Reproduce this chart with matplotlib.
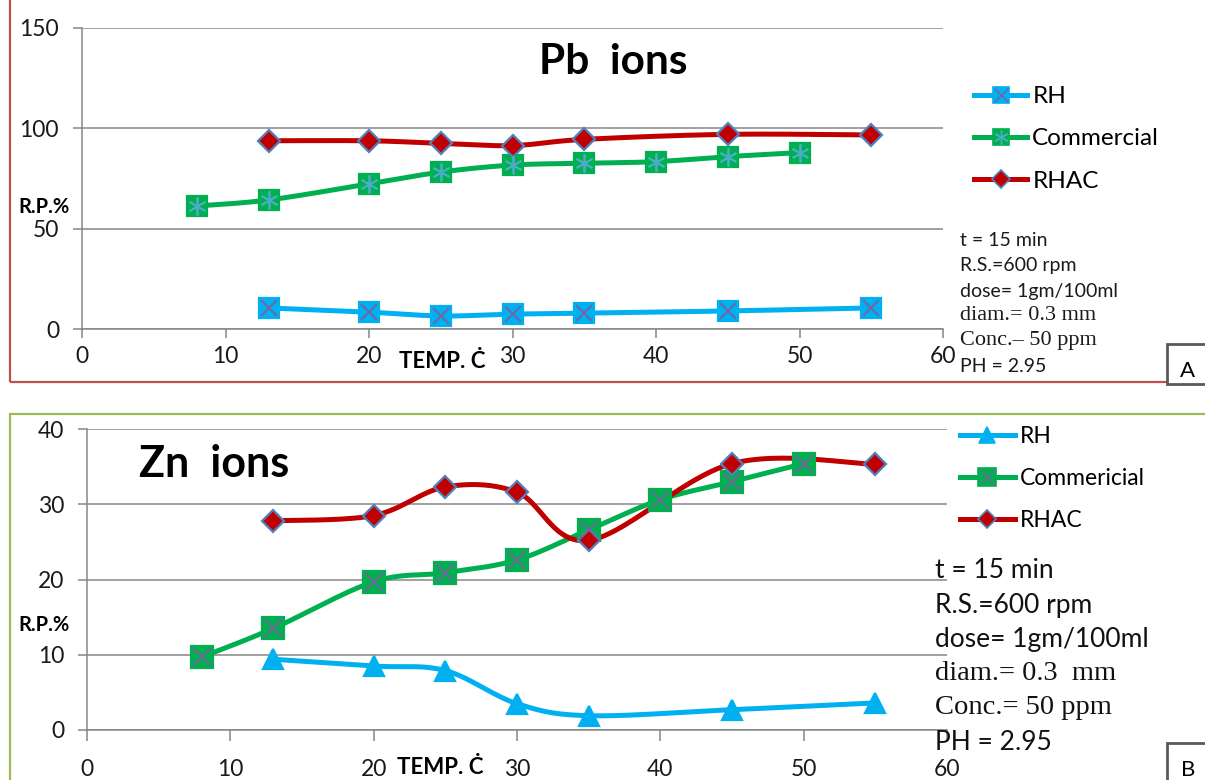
import numpy as np
import matplotlib.pyplot as plt
from matplotlib.lines import Line2D
from matplotlib.patches import Rectangle
from matplotlib.legend_handler import HandlerTuple

plt.rcParams['font.family'] = ['Lato', 'DejaVu Sans']

# data
temp_rh = [13, 20, 25, 30, 35, 45, 55]
temp_com = [8, 13, 20, 25, 30, 35, 40, 45, 50]
temp_rhac = [13, 20, 25, 30, 35, 45, 55]

pb_rh = [10.5, 8.4, 6.5, 7.4, 7.9, 9.0, 10.5]
pb_com = [61.3, 64.3, 72.3, 78.2, 81.7, 82.6, 83.4, 85.9, 87.9]
pb_rhac = [93.8, 93.8, 92.5, 91.4, 94.5, 97.0, 96.7]

zn_rh = [9.4, 8.5, 7.9, 3.5, 1.9, 2.7, 3.6]
zn_com = [9.7, 13.5, 19.7, 20.9, 22.6, 26.6, 30.6, 33.0, 35.4]
zn_rhac = [27.8, 28.5, 32.3, 31.6, 25.2, 35.4, 35.3]

x_ticks = [0, 10, 20, 30, 40, 50, 60]
pb_yticks = [0, 50, 100, 150]
zn_yticks = [0, 10, 20, 30, 40]

pb_labels = ['RH', 'Commercial', 'RHAC']
zn_labels = ['RH', 'Commericial', 'RHAC']

pb_notes = ['t = 15 min', 'R.S.=600 rpm', 'dose= 1gm/100ml',
            'diam.= 0.3 mm', 'Conc.\u2013 50 ppm', 'PH = 2.95']
zn_notes = ['t = 15 min', 'R.S.=600 rpm', 'dose= 1gm/100ml',
            'diam.= 0.3  mm', 'Conc.= 50 ppm', 'PH = 2.95']

c_rh = '#00B0F0'
c_com = '#00B050'
c_rhac = '#C00000'
c_edge = '#4F81BD'
c_x = '#7D60A0'
c_star = '#4BACC6'
c_grid = '#868686'

W, H = 1205, 780


def fx(px):
    return px / W


def fy(py):
    return 1 - py / H


# Excel style smoothed line (catmull-rom written as bezier pieces)
def smooth(x, y, n=30):
    p = np.column_stack([x, y]).astype(float)
    pts = np.vstack([p[0], p, p[-1]])
    t = np.linspace(0, 1, n)[:, None]
    out = []
    for i in range(1, len(pts) - 2):
        p0, p1, p2, p3 = pts[i - 1], pts[i], pts[i + 1], pts[i + 2]
        c1 = p1 + (p2 - p0) / 6
        c2 = p2 - (p3 - p1) / 6
        seg = (1 - t) ** 3 * p1 + 3 * (1 - t) ** 2 * t * c1 + 3 * (1 - t) * t ** 2 * c2 + t ** 3 * p2
        out.append(seg if i == 1 else seg[1:])
    seg = np.vstack(out)
    return seg[:, 0], seg[:, 1]


def draw_series(ax, x, y, color, marker, ms, mec=None, over=None, over_ms=None, over_c=None):
    sx, sy = smooth(x, y)
    ax.plot(sx, sy, color=color, lw=3.6, solid_capstyle='round', zorder=3, clip_on=False)
    ax.plot(x, y, ls='none', marker=marker, ms=ms, mfc=color,
            mec=mec or color, mew=1.6, zorder=4, clip_on=False)
    if over is not None:
        ax.plot(x, y, ls='none', marker=over, ms=over_ms, mec=over_c,
                mfc='none', mew=1.3, zorder=5, clip_on=False)


def style_axes(ax, ymax, yticks):
    ax.set_xlim(0, 60)
    ax.set_ylim(0, ymax)
    ax.set_xticks(x_ticks)
    ax.set_yticks(yticks)
    for s in ['top', 'right']:
        ax.spines[s].set_visible(False)
    for s in ['left', 'bottom']:
        ax.spines[s].set_color(c_grid)
        ax.spines[s].set_linewidth(1.1)
    ax.yaxis.grid(True, color=c_grid, lw=1.1)
    ax.set_axisbelow(True)
    ax.tick_params(axis='both', direction='out', length=6.5, width=1.1,
                   color=c_grid, labelsize=16.5, labelcolor='#1a1a1a')
    ax.tick_params(axis='y', pad=10)


def legend_handles(styles):
    hs = []
    for st in styles:
        line = Line2D([], [], color=st['color'], lw=3.6)
        mk = Line2D([], [], ls='none', marker=st['marker'], ms=st['ms'] * 0.8,
                    mfc=st['color'], mec=st.get('mec', st['color']), mew=1.2)
        parts = [line, mk]
        if st.get('over'):
            parts.append(Line2D([], [], ls='none', marker=st['over'], ms=st['over_ms'] * 0.8,
                                mec=st['over_c'], mfc='none', mew=1.0))
        hs.append(tuple(parts))
    return hs


fig = plt.figure(figsize=(W / 100, H / 100), dpi=100)

# panel borders
fig.add_artist(Rectangle((fx(10), fy(382)), 1.2, 1.2, transform=fig.transFigure,
                         fill=False, ec='#C0504D', lw=1.6))
fig.add_artist(Rectangle((fx(10), fy(1000)), 1.2, fy(414) - fy(1000), transform=fig.transFigure,
                         fill=False, ec='#9BBB59', lw=1.6))

# ---- top panel : Pb
ax1 = fig.add_axes([fx(82), fy(329), fx(943) - fx(82), fy(28) - fy(329)])
style_axes(ax1, 150, pb_yticks)
ax1.tick_params(axis='x', pad=6)

pb_styles = [
    dict(color=c_rh, marker='s', ms=14.5, over='x', over_ms=12, over_c=c_x),
    dict(color=c_com, marker='s', ms=14.5, over=(6, 2, 0), over_ms=13, over_c=c_star),
    dict(color=c_rhac, marker='D', ms=11, mec=c_edge),
]
for xs, ys, st in zip([temp_rh, temp_com, temp_rhac], [pb_rh, pb_com, pb_rhac], pb_styles):
    draw_series(ax1, xs, ys, st['color'], st['marker'], st['ms'], st.get('mec'),
                st.get('over'), st.get('over_ms'), st.get('over_c'))

fig.text(fx(613), fy(62), 'Pb  ions', fontsize=30.5, fontweight='bold', ha='center', va='center')
fig.text(fx(18), fy(207), 'R.P.%', fontsize=14.5, fontweight='bold', ha='left', va='center')
fig.text(fx(442), fy(362), 'TEMP. \u010a', fontsize=16, fontweight='bold', ha='center', va='center')

fig.legend(legend_handles(pb_styles), pb_labels,
           handler_map={tuple: HandlerTuple(ndivide=1)},
           loc='upper left', bbox_to_anchor=(fx(974), fy(86)), frameon=False,
           fontsize=17.5, handlelength=2.2, handletextpad=0.2, labelspacing=0.88,
           borderaxespad=0, borderpad=0)

pb_fonts = ['Lato', 'Lato', 'Lato', 'Liberation Serif', 'Liberation Serif', 'Lato']
pb_sizes = [14, 14, 14, 16, 16, 14]
for i, (s, f, fs) in enumerate(zip(pb_notes, pb_fonts, pb_sizes)):
    fig.text(fx(960), fy(241 + i * 25), s, fontsize=fs, family=[f, 'DejaVu Sans'],
             ha='left', va='center', color='#1a1a1a')

# ---- bottom panel : Zn
ax2 = fig.add_axes([fx(87), fy(730), fx(947) - fx(87), fy(429) - fy(730)])
style_axes(ax2, 40, zn_yticks)
ax2.tick_params(axis='x', pad=13, length=8)

zn_styles = [
    dict(color=c_rh, marker='^', ms=15),
    dict(color=c_com, marker='s', ms=15.5, over='x', over_ms=13, over_c=c_x),
    dict(color=c_rhac, marker='D', ms=11, mec=c_edge),
]
for xs, ys, st in zip([temp_rh, temp_com, temp_rhac], [zn_rh, zn_com, zn_rhac], zn_styles):
    draw_series(ax2, xs, ys, st['color'], st['marker'], st['ms'], st.get('mec'),
                st.get('over'), st.get('over_ms'), st.get('over_c'))

fig.text(fx(214), fy(464), 'Zn  ions', fontsize=31, fontweight='bold', ha='center', va='center')
fig.text(fx(18), fy(625), 'R.P.%', fontsize=14.5, fontweight='bold', ha='left', va='center')
fig.text(fx(440), fy(767), 'TEMP. \u010a', fontsize=16, fontweight='bold', ha='center', va='center')

fig.legend(legend_handles(zn_styles), zn_labels,
           handler_map={tuple: HandlerTuple(ndivide=1)},
           loc='upper left', bbox_to_anchor=(fx(960), fy(426)), frameon=False,
           fontsize=16.5, handlelength=2.4, handletextpad=0.2, labelspacing=0.92,
           borderaxespad=0, borderpad=0)

zn_fonts = ['Lato', 'Lato', 'Lato', 'Liberation Serif', 'Liberation Serif', 'Lato']
zn_sizes = [19, 19, 19, 20.5, 20.5, 19]
for i, (s, f, fs) in enumerate(zip(zn_notes, zn_fonts, zn_sizes)):
    fig.text(fx(935), fy(571 + i * 34.2), s, fontsize=fs, family=[f, 'DejaVu Sans'],
             ha='left', va='center', color='#111111')

# small A / B boxes at the right edge
for top, lab in [(344, 'A'), (743, 'B')]:
    fig.add_artist(Rectangle((fx(1167), fy(top + 40)), 0.1, fy(top) - fy(top + 40),
                             transform=fig.transFigure, fc='white', ec='#5a5a5a', lw=2))
    fig.text(fx(1188), fy(top + 27), lab, fontsize=16, ha='center', va='center')

fig.savefig('out.png', dpi=100)
